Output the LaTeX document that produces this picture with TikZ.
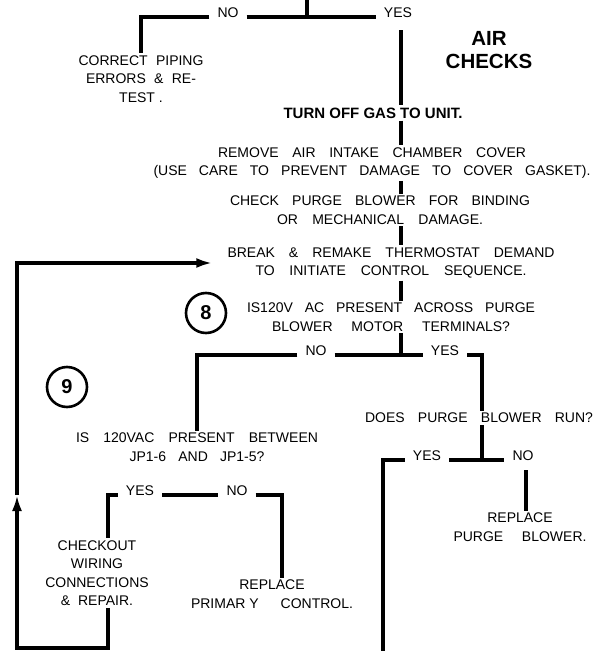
\documentclass[tikz,border=0pt]{standalone}
\usepackage{fontspec}
\setmainfont{Liberation Sans}
\usetikzlibrary{arrows.meta}
\newcommand{\sline}[2]{\makebox[#1pt][s]{#2}}

\begin{document}
\begin{tikzpicture}[
  x=1pt, y=-1pt,
  font=\fontsize{14}{18.5}\selectfont,
  txt/.style={align=center, inner sep=2pt},
  lbl/.style={anchor=base, inner xsep=8pt, inner ysep=2pt},
  wire/.style={line width=3.2pt},
  flow/.style={wire, -{Latex[length=16pt,width=10pt]}},
  num/.style={circle, draw, line width=2.6pt, minimum size=40pt, inner sep=0pt,
              font=\fontsize{20}{20}\selectfont\bfseries},
  strong/.style={font=\fontsize{15}{18}\selectfont\bfseries},
  banner/.style={align=center, font=\fontsize{20.5}{23}\selectfont\bfseries},
]
\useasboundingbox (0,0) rectangle (602,651);
\coordinate (top) at (307,0);
\coordinate (spine) at (401,0);
\coordinate (spine2) at (482,0);
\coordinate (spine3) at (526,0);
\coordinate (loopx) at (108,0);
\coordinate (rx) at (282,0);
\coordinate (bot) at (383,651);
\coordinate (left) at (17,648);
\coordinate (mid) at (17,495);

\node[banner] (air) at (489,50) {AIR\\CHECKS};
\node[txt] (correct) at (141,79) {\sline{125}{CORRECT PIPING}\\\sline{110}{ERRORS \& RE-}\\TEST\ .};
\node[txt, strong] (turn) at (373,113) {TURN OFF GAS TO UNIT.};
\node[txt] (remove) at (372,163) {\sline{308}{REMOVE AIR INTAKE CHAMBER COVER}\\\sline{437}{(USE CARE TO PREVENT DAMAGE TO COVER GASKET).}};
\node[txt] (check) at (380,210) {\sline{300}{CHECK PURGE BLOWER FOR BINDING}\\\sline{206}{OR MECHANICAL DAMAGE.}};
\node[txt] (brk) at (391,263) {\sline{327}{BREAK \& REMAKE THERMOSTAT DEMAND}\\\sline{271}{TO INITIATE CONTROL SEQUENCE.}};
\node[txt] (ac8) at (391,317) {\sline{288}{IS120V AC PRESENT ACROSS PURGE}\\\sline{238}{BLOWER MOTOR TERMINALS?}};
\node[num] (c8) at (206,313) {8};
\node[num] (c9) at (67,387) {9};
\node[txt] (jp9) at (197,447) {\sline{242}{IS 120VAC PRESENT BETWEEN}\\\sline{135}{JP1-6 AND JP1-5?}};
\node[txt] (does) at (479,418) {\sline{228}{DOES PURGE BLOWER RUN?}};
\node[txt] (checkout) at (97,573) {CHECKOUT\\WIRING\\CONNECTIONS\\\&\ \ REPAIR.};
\node[txt] (rpc) at (272,594) {REPLACE\\\makebox[162pt]{PRIMAR\ Y\hfill CONTROL.}};
\node[txt] (rpb) at (520,527) {REPLACE\\\sline{133}{PURGE BLOWER.}};

\node[lbl] (no0) at (228,17) {NO};
\node[lbl] (yes0) at (398,17) {YES};
\node[lbl] (no8) at (316,355) {NO};
\node[lbl] (yes8) at (445,355) {YES};
\node[lbl] (yes10) at (427,460) {YES};
\node[lbl] (no10) at (523,460) {NO};
\node[lbl] (yes9) at (140,495) {YES};
\node[lbl] (no9) at (237,495) {NO};

\draw[wire] (top) -- (top |- no0.base);
\draw[wire] (no0.base west) -| (correct.north);
\draw[wire] (no0.base east) -- (yes0.base west);
\draw[wire, shorten <=13pt] (yes0.base -| spine) -- (turn.north -| spine);
\draw[wire] (turn.south -| spine) -- (remove.north -| spine);
\draw[wire] (remove.south -| spine) -- (check.north -| spine);
\draw[wire] (check.south -| spine) -- (brk.north -| spine);
\draw[wire] (brk.south -| spine) -- (ac8.north -| spine);
\draw[wire] (ac8.south -| spine) -- (spine |- no8.base);
\draw[wire] (no8.base west) -| (jp9.north);
\draw[wire] (no8.base east) -- (yes8.base west);
\draw[wire] (yes8.base east) -| (spine2 |- does.north);
\draw[wire] (does.south -| spine2) -- (spine2 |- yes10.base);
\draw[wire] (yes10.base east) -- (no10.base west);
\draw[wire] (yes10.base west) -| (bot);
\draw[wire, shorten <=10pt] (spine3 |- no10.base) -- (spine3 |- rpb.north);
\draw[wire] (yes9.base west) -| (loopx |- checkout.north);
\draw[wire] (yes9.base east) -- (no9.base west);
\draw[wire] (no9.base east) -| (rx |- rpc.north);
\draw[flow] (loopx |- checkout.south) |- (left) -- (mid);
\draw[flow, shorten >=13pt] (mid) |- (brk.west);
\end{tikzpicture}
\end{document}
